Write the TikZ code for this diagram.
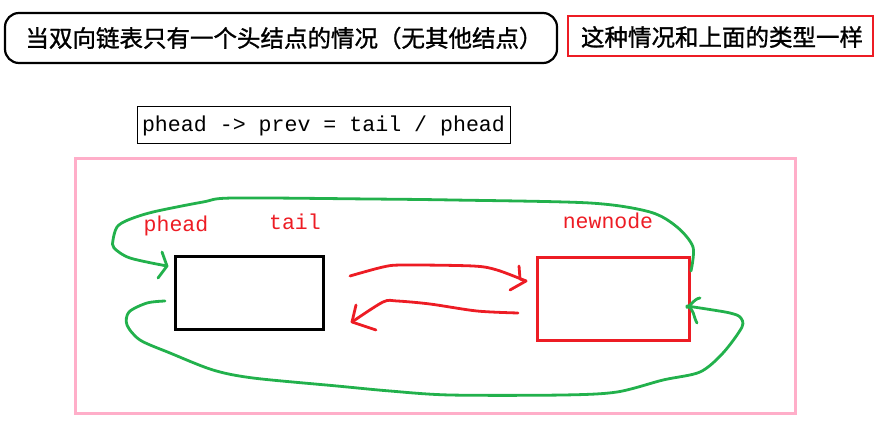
\documentclass[tikz,border=0pt]{standalone}
\usepackage{fontspec}
\newfontfamily\cjk{Noto Sans CJK SC}[FakeBold=1.2]
\setmainfont{Liberation Serif}
\setmonofont{Liberation Mono}
\definecolor{pgreen}{RGB}{34,177,76}
\definecolor{pred}{RGB}{237,28,36}
\definecolor{ppink}{RGB}{255,174,201}
\begin{document}
\begin{tikzpicture}[x=1pt,y=-1pt,
  gline/.style={draw=pgreen,line width=2.8pt,line cap=round,line join=round},
  rline/.style={draw=pred,line width=2.8pt,line cap=round,line join=round},
  lbl/.style={text=pred,font=\ttfamily\fontsize{21.5}{23}\selectfont,inner sep=0pt},
  cjkt/.style={font=\cjk\fontsize{23.5}{25}\selectfont,inner sep=0pt}]
\useasboundingbox (0,0) rectangle (878,422);
% title
\node[draw=black,line width=2.2pt,rounded corners=14pt,minimum width=552pt,minimum height=50pt,inner sep=0pt] (title) at (281,38) {};
\node[cjkt] (tt) at (284,38) {当双向链表只有一个头结点的情况（无其他结点）};
\node[draw=pred,line width=2.8pt,minimum width=305pt,minimum height=40pt,inner sep=0pt] (note) at (720.5,36) {};
\node[cjkt] (nt) at (722,37) {这种情况和上面的类型一样};
% code box
\node[draw=black,line width=1pt,minimum width=373pt,minimum height=37pt,inner sep=0pt,font=\ttfamily\fontsize{21.6}{24}\selectfont] (code) at (323.5,125.5) {phead -> prev = tail / phead};
% pink frame
\node[draw=ppink,line width=3pt,minimum width=720pt,minimum height=254pt,inner sep=0pt] (frame) at (435,286) {};
% nodes
\node[draw=black,line width=3pt,minimum width=148pt,minimum height=73pt,inner sep=0pt] (phead) at (249,292.5) {};
\node[draw=pred,line width=3pt,minimum width=152pt,minimum height=83pt,inner sep=0pt] (newnode) at (613,298.5) {};
\node[lbl] (lp) at (176,226) {phead};
\node[lbl] (lt) at (295,222) {tail};
\node[lbl] (ln) at (608,221) {newnode};
% red arrows
\coordinate (ra1) at (350,276);
\coordinate (ra2) at (526,281);
\draw[rline] plot[smooth,tension=0.5] coordinates {(ra1) (383,267) (403,265) (473,266) (497,270) (ra2)};
\draw[rline] (519,266) -- (520,279) -- (ra2) -- (510,290);
\coordinate (rb1) at (518,313);
\coordinate (rb2) at (352,322);
\draw[rline] plot[smooth,tension=0.5] coordinates {(rb1) (477,311) (430,304) (397,301) (383,302) (rb2)};
\draw[rline] (356,305) -- (rb2) -- (376,330);
% green loop 1: newnode -> phead
\coordinate (g1s) at (691,271);
\coordinate (g1e) at (167,266);
\draw[gline] plot[smooth,tension=0.5] coordinates {(g1s) (693,247) (677,227) (650,212) (590,203) (453,200) (370,199) (233,198) (203,202) (153,212) (128,220) (117,227) (113,240) (114,248) (130,258) (g1e)};
\draw[gline] (162,252) -- (g1e) -- (158,278);
% green loop 2: phead -> newnode
\coordinate (g2s) at (165,301);
\coordinate (g2e) at (687,306);
\draw[gline] plot[smooth,tension=0.5] coordinates {(g2s) (147,303) (129,312) (127,325) (140,340) (170,353) (213,370) (253,378) (337,386) (390,391) (450,395) (563,395) (617,392) (663,380) (700,372) (723,353) (742,327) (740,317) (730,313) (713,310) (g2e)};
\draw[gline] (700,298) to[out=180,in=-100] (g2e) to[out=-20,in=120] (697,323);
\end{tikzpicture}
\end{document}
